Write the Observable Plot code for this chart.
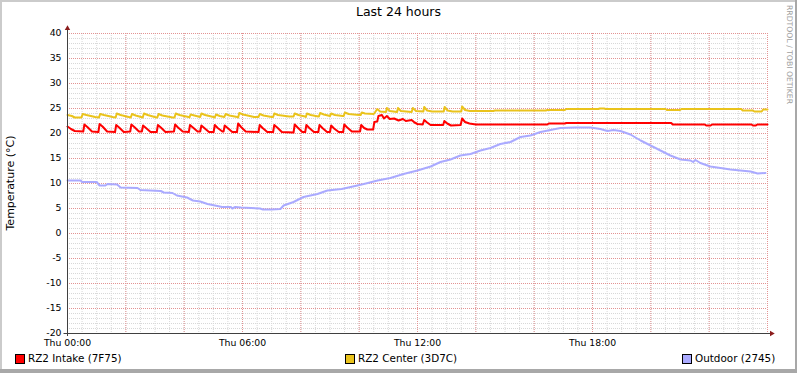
<!DOCTYPE html>
<html>
<head>
<meta charset="utf-8">
<script src="https://cdn.jsdelivr.net/npm/d3@7"></script>
<script src="https://cdn.jsdelivr.net/npm/@observablehq/plot@0.6"></script>
<style>
  html, body { margin: 0; padding: 0; background: #fff; }
  #wrap { position: relative; width: 797px; height: 373px; overflow: hidden; background: #fff; font-family: "DejaVu Sans", sans-serif; color: #000; }
  #wrap svg { position: absolute; left: 0; top: 0; }
  .abs { position: absolute; white-space: nowrap; line-height: 1; }
  .sw { position: absolute; width: 8px; height: 8px; border: 1px solid #000; }
</style>
</head>
<body>
<div id="wrap"></div>
<script>
// ---- data (hour of day, °C) ----
const title = "Last 24 hours";
const yLabel = "Temperature (°C)";
const watermark = "RRDTOOL / TOBI OETIKER";
const yTicks = [-20, -15, -10, -5, 0, 5, 10, 15, 20, 25, 30, 35, 40];
const xTickHours = [0, 6, 12, 18];
const xTickLabels = ["Thu 00:00", "Thu 06:00", "Thu 12:00", "Thu 18:00"];
const seriesNames = ["RZ2 Intake (7F75)", "RZ2 Center (3D7C)", "Outdoor (2745)"];
const seriesColors = ["#FF0000", "#EAC31C", "#AAAAFF"];

const intake = [
  [0,21.4],[0.12,20.9],[0.25,20.5],[0.54,20.4],[0.58,21.8],[0.68,21.3],[0.84,20.4],
  [1.06,20.3],[1.10,21.9],[1.20,21.4],[1.36,20.4],[1.63,20.3],[1.67,21.7],[1.77,21.2],[1.93,20.3],
  [2.15,20.4],[2.19,21.8],[2.29,21.3],[2.45,20.4],[2.55,20.4],[2.59,21.6],[2.69,21.1],[2.85,20.3],
  [3.06,20.3],[3.10,21.7],[3.20,21.2],[3.36,20.3],[3.65,20.4],[3.69,21.8],[3.79,21.2],[3.95,20.4],
  [4.16,20.3],[4.20,21.7],[4.30,21.2],[4.46,20.4],[4.55,20.4],[4.59,21.6],[4.69,21.1],[4.85,20.3],
  [5.01,20.3],[5.05,21.7],[5.15,21.1],[5.31,20.4],[5.35,20.4],[5.39,21.6],[5.49,21.1],[5.65,20.3],
  [5.81,20.3],[5.85,22.0],[5.95,21.3],[6.11,20.4],[6.55,20.3],[6.59,21.7],[6.69,21.1],[6.85,20.3],
  [7.05,20.3],[7.09,21.7],[7.19,21.2],[7.35,20.3],[7.75,20.2],[7.79,21.8],[7.89,21.2],[8.05,20.3],
  [8.15,20.3],[8.19,21.7],[8.29,21.1],[8.45,20.3],[8.60,20.3],[8.64,21.7],[8.74,21.1],[8.90,20.3],
  [9.00,20.3],[9.04,21.6],[9.14,21.0],[9.30,20.3],[9.45,20.3],[9.49,21.8],[9.59,21.2],[9.75,20.4],
  [10.03,20.4],[10.07,21.7],[10.17,21.1],[10.28,20.8],[10.48,20.8],[10.52,22.3],[10.62,22.4],
  [10.66,23.5],[10.78,23.7],[10.85,23.0],[10.95,23.5],[11.05,22.9],[11.20,23.0],[11.35,22.6],
  [11.50,22.9],[11.60,22.5],[11.80,22.7],[11.90,22.2],[12.00,21.9],[12.18,21.8],[12.23,22.7],
  [12.33,22.2],[12.45,21.7],[12.88,21.7],[12.92,22.5],[13.02,22.0],[13.15,21.6],[13.48,21.7],
  [13.53,23.0],[13.63,22.3],[13.78,22.0],[14.0,21.8],[16.45,21.8],[16.5,22.0],[17.05,22.0],
  [17.1,22.1],[20.7,22.1],[20.75,21.8],[21.85,21.8],[21.9,21.6],[22.05,21.6],[22.1,21.8],
  [23.45,21.8],[23.5,21.6],[23.6,21.6],[23.65,21.8],[24,21.8]
];

const center = [
  [0,23.7],[0.15,23.5],[0.25,23.2],[0.48,23.2],[0.52,23.9],[0.65,23.7],[0.95,23.3],
  [1.08,23.2],[1.12,23.9],[1.25,23.7],[1.55,23.3],[1.65,23.2],[1.69,24.0],[1.82,23.7],[2.1,23.3],
  [2.17,23.2],[2.21,23.9],[2.34,23.6],[2.58,23.2],[2.62,24.0],[2.75,23.7],[3.05,23.2],
  [3.08,23.2],[3.12,23.9],[3.25,23.6],[3.6,23.2],[3.67,23.2],[3.71,24.0],[3.84,23.7],[4.15,23.3],
  [4.18,23.2],[4.22,23.8],[4.35,23.6],[4.55,23.3],[4.59,24.0],[4.72,23.7],[5.0,23.3],
  [5.05,23.2],[5.09,23.8],[5.22,23.5],[5.38,23.3],[5.42,23.9],[5.55,23.6],[5.82,23.3],
  [5.85,23.2],[5.89,24.1],[6.02,23.8],[6.4,23.3],[6.55,23.3],[6.59,23.9],[6.72,23.6],[7.0,23.3],
  [7.05,23.3],[7.09,24.0],[7.22,23.7],[7.6,23.4],[7.75,23.4],[7.79,24.0],[7.92,23.7],[8.14,23.4],
  [8.17,23.3],[8.21,24.0],[8.34,23.7],[8.6,23.4],[8.62,23.4],[8.66,24.1],[8.79,23.8],[9.0,23.5],
  [9.04,24.0],[9.17,23.7],[9.44,23.5],[9.47,23.5],[9.51,24.2],[9.64,23.9],[10.0,23.7],
  [10.05,23.7],[10.09,24.2],[10.2,24.0],[10.5,23.9],[10.55,24.3],[10.62,24.9],[10.72,24.4],
  [10.92,24.3],[10.95,25.1],[11.05,24.5],[11.3,24.3],[11.33,25.1],[11.43,24.5],[11.8,24.3],
  [11.84,25.1],[11.95,24.5],[12.2,24.4],[12.23,25.3],[12.33,24.6],[12.5,24.4],[12.9,24.4],
  [12.93,25.3],[13.03,24.6],[13.2,24.4],[13.5,24.4],[13.53,25.4],[13.63,24.7],[13.8,24.5],
  [14.6,24.5],[14.65,24.6],[16.4,24.6],[16.45,24.7],[17.05,24.7],[17.1,24.9],[18.2,24.9],
  [18.25,25.0],[18.4,25.0],[18.45,24.9],[20.5,24.9],[20.55,24.7],[21.0,24.7],[21.05,24.9],
  [23.1,24.9],[23.15,24.6],[23.5,24.6],[23.55,24.4],[23.8,24.4],[23.85,24.8],[24,24.8]
];

const outdoor = [
  [0,10.6],[0.45,10.6],[0.5,10.3],[1.0,10.3],[1.1,9.6],[1.3,9.6],[1.37,9.9],[1.7,9.8],[1.82,9.2],
  [2.4,9.1],[2.5,8.7],[3.2,8.5],[3.3,8.2],[3.6,8.1],[3.75,7.6],[4.1,7.2],[4.3,6.6],[4.55,6.4],
  [4.8,5.9],[5.14,5.5],[5.3,5.3],[5.6,5.3],[5.65,5.0],[5.75,5.3],[5.95,5.2],[6.3,5.1],[6.6,5.0],
  [6.7,4.8],[7.0,4.8],[7.3,4.9],[7.41,5.6],[7.75,6.3],[8.09,7.3],[8.57,7.9],[8.91,8.6],[9.4,8.9],
  [9.94,9.6],[10.3,10.1],[10.63,10.6],[11.07,11.1],[11.52,11.9],[12.0,12.6],[12.45,13.4],
  [12.79,14.3],[13.13,14.8],[13.47,15.6],[13.82,15.9],[14.16,16.6],[14.5,17.1],[14.84,17.9],
  [15.19,18.3],[15.53,19.3],[15.87,19.6],[16.22,20.3],[16.56,20.7],[16.9,21.1],[17.4,21.2],
  [17.93,21.2],[18.27,20.9],[18.51,20.5],[18.72,20.7],[18.96,20.5],[19.3,19.8],[19.65,18.6],
  [19.99,17.6],[20.33,16.6],[20.67,15.6],[21.02,14.8],[21.36,14.6],[21.45,14.3],[21.53,14.7],
  [21.7,14.1],[22.04,13.4],[22.39,13.1],[22.73,12.8],[23.07,12.6],[23.42,12.4],[23.66,12.0],
  [23.93,12.1]
];

// ---- chart ----
const xDomain = [0, 24], yDomain = [-20, 40];
const toObj = arr => arr.map(([h, v]) => ({h, v}));
const minorY = d3.range(yDomain[0], yDomain[1] + 1, 1);
const minorX = d3.range(0, 24.01, 0.5);
const majorX = d3.range(0, 24.01, 2);
const font = "DejaVu Sans";

const svg = Plot.plot({
  width: 797, height: 373,
  marginLeft: 67, marginRight: 30, marginTop: 33, marginBottom: 40,
  x: {domain: xDomain, axis: null},
  y: {domain: yDomain, axis: null},
  style: {background: "transparent", fontFamily: font, overflow: "visible"},
  marks: [
    Plot.ruleY(minorY, {stroke: "#d8d8d8", strokeDasharray: "1,1"}),
    Plot.ruleX(minorX, {stroke: "#d8d8d8", strokeDasharray: "1,1"}),
    Plot.ruleY(yTicks, {stroke: "#e39393", strokeDasharray: "1,1"}),
    Plot.ruleX(majorX, {stroke: "#e39393", strokeDasharray: "1,1"}),
    Plot.line(toObj(outdoor), {x: "h", y: "v", stroke: seriesColors[2], strokeWidth: 2}),
    Plot.line(toObj(center), {x: "h", y: "v", stroke: seriesColors[1], strokeWidth: 2}),
    Plot.line(toObj(intake), {x: "h", y: "v", stroke: seriesColors[0], strokeWidth: 2}),
    // axes
    Plot.ruleX([xDomain[0]], {y1: yDomain[0] - 0.6, y2: yDomain[1] + 1.0, stroke: "#404040", strokeWidth: 1}),
    Plot.ruleY([yDomain[0]], {x1: xDomain[0] - 0.12, x2: xDomain[1] + 0.14, stroke: "#404040", strokeWidth: 1}),
    Plot.dot([{h: xDomain[0], v: yDomain[1] + 1.0}], {x: "h", y: "v", symbol: "triangle2", r: 2.6, fill: "#8b1c1c", stroke: "none"}),
    Plot.dot([{h: xDomain[1] + 0.14, v: yDomain[0]}], {x: "h", y: "v", symbol: "triangle2", r: 2.6, fill: "#8b1c1c", stroke: "none", rotate: 90}),
    // tick labels
    Plot.text(yTicks, {x: xDomain[0], y: d => d, text: d => String(d), textAnchor: "end", dx: -6, fontSize: 9.3, fill: "#000"}),
    Plot.text(xTickHours, {x: d => d, y: yDomain[0], text: (d, i) => xTickLabels[i], dy: 10, fontSize: 9.3, fill: "#000"})
  ]
});
const wrap = document.getElementById("wrap");
wrap.appendChild(svg);

function addDiv(text, css, cls = "abs") {
  const d = document.createElement("div");
  d.className = cls;
  if (text) d.textContent = text;
  Object.assign(d.style, css);
  wrap.appendChild(d);
  return d;
}
// title
addDiv(title, {left: "0px", width: "797px", textAlign: "center", top: "6px", fontSize: "12.5px"});
// y label
addDiv(yLabel, {left: "10px", top: "183px", fontSize: "11px", transform: "translate(-50%,-50%) rotate(-90deg)"});
// watermark
addDiv(watermark, {left: "789px", top: "5px", fontSize: "7.7px", color: "#a0a0a0", transformOrigin: "0 0", transform: "translate(4px,0) rotate(90deg)"});
// legend
const legendX = [15, 345, 682];
seriesNames.forEach((name, i) => {
  addDiv("", {left: legendX[i] + "px", top: "354px", background: seriesColors[i]}, "sw");
  addDiv(name, {left: (legendX[i] + 13) + "px", top: "353px", fontSize: "10.4px"});
});
// frame
addDiv("", {left: "0", top: "0", width: "797px", height: "2px", background: "#cbcbcb"});
addDiv("", {left: "0", top: "0", width: "2px", height: "373px", background: "#cbcbcb"});
addDiv("", {left: "795px", top: "0", width: "2px", height: "373px", background: "#a8a8a8"});
addDiv("", {left: "0", top: "369px", width: "797px", height: "4px", background: "#a8a8a8"});
</script>
</body>
</html>
